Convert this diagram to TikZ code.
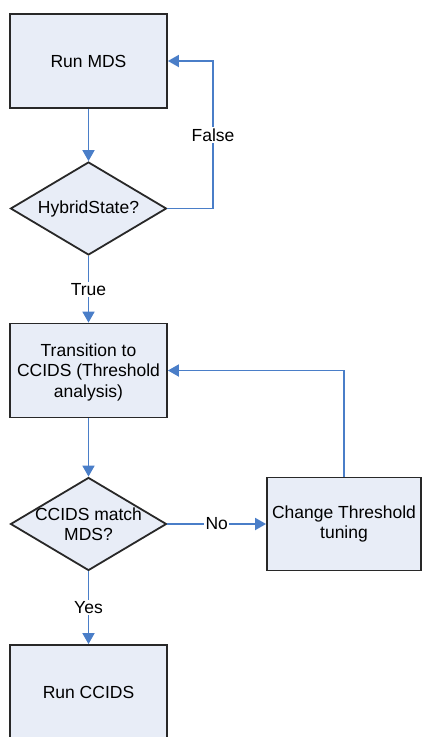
\documentclass[tikz,border=0pt]{standalone}
\usepackage{fontspec}
\setmainfont{Liberation Sans}
\usetikzlibrary{arrows.meta,shapes.geometric}
\definecolor{boxfill}{RGB}{232,237,247}
\definecolor{boxline}{RGB}{40,40,40}
\definecolor{arrblue}{RGB}{74,126,200}
\tikzset{
  procbox/.style={draw=boxline, fill=boxfill, line width=1.8pt, rectangle,
    minimum width=157pt, minimum height=94pt, inner sep=0pt, align=center,
    font=\fontsize{17.5}{20.5}\selectfont},
  decbox/.style={draw=boxline, fill=boxfill, line width=1.8pt, diamond,
    minimum width=156pt, minimum height=93pt, inner sep=0pt},
  dectext/.style={align=center, inner sep=0pt, font=\fontsize{17.5}{20}\selectfont},
  arr/.style={draw=arrblue, line width=1.8pt, -{Triangle[length=11pt,width=12pt]}},
  lbl/.style={fill=white, inner sep=1.5pt, font=\fontsize{17.5}{20}\selectfont}
}
\begin{document}
\begin{tikzpicture}[x=1pt,y=-1pt]
\useasboundingbox (0,0) rectangle (422,737);
\node[procbox] (mds) at (88.5,61) {Run MDS};
\node[decbox] (d1) at (88.5,208.5) {};
\node[dectext] (d1t) at (88.5,208.5) {HybridState?};
\node[procbox, text depth=0pt] (trans) at (88.5,370.5) {Transition to\\CCIDS (Threshold\\analysis)};
\node[decbox] (d2) at (88.5,524) {};
\node[dectext] (d2t) at (88.5,524) {CCIDS match\\MDS?};
\node[procbox, minimum width=154pt, minimum height=93pt] (chg) at (344,524) {Change Threshold\\tuning};
\node[procbox] (ccids) at (88.5,692) {Run CCIDS};
\coordinate (fx) at (213,0);
\draw[arr] (mds) -- (d1);
\draw[arr] (d1.east) -- (d1.east -| fx) |- node[lbl, pos=0.25] {False} (mds.east);
\draw[arr] (d1) -- node[lbl] {True} (trans);
\draw[arr] (trans) -- (d2);
\draw[arr] (d2.east) -- node[lbl] {No} (chg.west);
\draw[arr] (chg.north) |- (trans.east);
\draw[arr] (d2) -- node[lbl] {Yes} (ccids);
\end{tikzpicture}
\end{document}
